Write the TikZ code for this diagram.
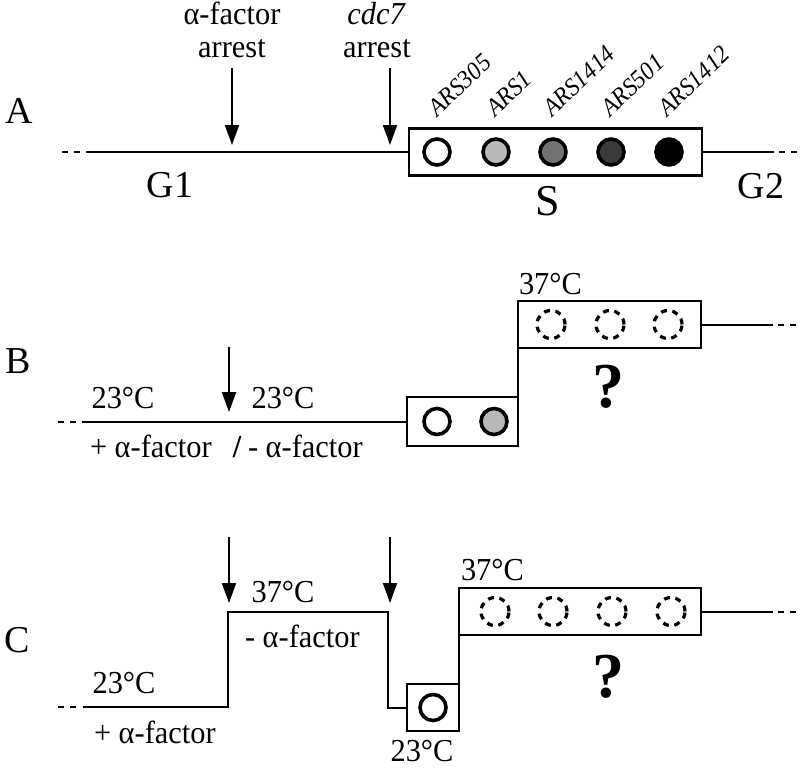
\documentclass[tikz,border=0pt]{standalone}
\usepackage{fontspec}
\setmainfont{Liberation Serif}
\newfontfamily\lblfont{Liberation Serif}[FakeStretch=0.95]
\usetikzlibrary{arrows.meta}
\definecolor{oriA}{gray}{0.72}
\definecolor{oriB}{gray}{0.45}
\definecolor{oriC}{gray}{0.23}
\definecolor{oriD}{gray}{0.0}
\begin{document}
\begin{tikzpicture}[x=1pt,y=-1pt,
  every node/.style={inner sep=0pt, outer sep=0pt},
  ln/.style={line width=2pt},
  dsh/.style={line width=2pt, dash pattern=on 6pt off 6pt},
  box/.style={draw, line width=2.3pt, rectangle, minimum height=47pt},
  ori/.style={circle, draw, line width=3.6pt, minimum size=26pt, fill=#1},
  dori/.style={circle, draw, line width=3.2pt, dash pattern=on 6pt off 5.5pt, minimum size=28pt},
  arr/.style={line width=2pt, -{Triangle[length=20pt,width=14pt]}},
  lbl/.style={font=\lblfont\fontsize{32}{34}\selectfont, anchor=base},
  phase/.style={font=\fontsize{38}{40}\selectfont, anchor=base},
  panel/.style={font=\fontsize{38}{40}\selectfont, anchor=base},
  ars/.style={font=\lblfont\itshape\fontsize{25}{27}\selectfont, anchor=base west, rotate=43},
  qm/.style={font=\bfseries\fontsize{64}{66}\selectfont, anchor=base}]
\useasboundingbox (0,0) rectangle (800,768);

% ---------------- Panel A ----------------
\node[panel] (pA) at (19,123) {A};
\node[box, minimum width=293pt] (boxA) at (555.5,152) {};
\node[ori=white] (a1) at (437,152) {};
\node[ori=oriA] (a2) at (496,152) {};
\node[ori=oriB] (a3) at (553,152) {};
\node[ori=oriC] (a4) at (611,152) {};
\node[ori=oriD] (a5) at (669,152) {};
\node[ars] (l1) at (437,117) {ARS305};
\node[ars] (l2) at (495,117) {ARS1};
\node[ars] (l3) at (552,117) {ARS1414};
\node[ars] (l4) at (610,117) {ARS501};
\node[ars] (l5) at (667,117) {ARS1412};
\coordinate (aL0) at (62,152);
\coordinate (aL1) at (80,152);
\coordinate (aL2) at (86,152);
\draw[dsh] (aL0) -- (aL1);
\draw[ln] (aL2) -- (boxA.west);
\coordinate (aR1) at (774,152);
\coordinate (aR2) at (779,152);
\coordinate (aR3) at (797,152);
\draw[ln] (boxA.east) -- (aR1);
\draw[dsh] (aR2) -- (aR3);
\node[lbl] (tA1) at (232,25) {α-factor};
\node[lbl] (tA2) at (232,57) {arrest};
\node[lbl] (tA3) at (376,25) {\itshape cdc7};
\node[lbl] (tA4) at (377,57) {arrest};
\coordinate (arA1s) at (232,68);
\coordinate (arA1e) at (232,145);
\coordinate (arA2s) at (390,68);
\coordinate (arA2e) at (390,145);
\draw[arr] (arA1s) -- (arA1e);
\draw[arr] (arA2s) -- (arA2e);
\node[phase] (g1) at (170,197) {G1};
\node[phase, font=\fontsize{44}{46}\selectfont] (sph) at (548,215) {S};
\node[phase] (g2) at (761,198) {G2};

% ---------------- Panel B ----------------
\node[panel] (pB) at (18,373) {B};
\node[box, minimum width=111pt, minimum height=49pt] (boxB1) at (462.5,421.5) {};
\node[box, minimum width=183pt] (boxB2) at (609.5,324.5) {};
\node[ori=white] (b1) at (437,421.5) {};
\node[ori=oriA] (b2) at (494,421.5) {};
\node[dori] (b3) at (551,324.5) {};
\node[dori] (b4) at (610,324.5) {};
\node[dori] (b5) at (668,324.5) {};
\coordinate (bL0) at (58,421.5);
\coordinate (bL1) at (76,421.5);
\coordinate (bL2) at (82,421.5);
\draw[dsh] (bL0) -- (bL1);
\draw[ln] (bL2) -- (boxB1.west);
\draw[ln] (boxB1.north east) -- (boxB2.south west);
\coordinate (bR1) at (773,324.5);
\coordinate (bR2) at (778,324.5);
\coordinate (bR3) at (796,324.5);
\draw[ln] (boxB2.east) -- (bR1);
\draw[dsh] (bR2) -- (bR3);
\coordinate (arBs) at (229,347);
\coordinate (arBe) at (229,412);
\draw[arr] (arBs) -- (arBe);
\node[lbl] (tB1) at (123,408) {23°C};
\node[lbl] (tB2) at (283,408) {23°C};
\node[lbl, anchor=base west] (tB3) at (90,457) {+ α-factor};
\node[lbl, font=\lblfont\bfseries\fontsize{32}{34}\selectfont] (tBs) at (237,457) {/};
\node[lbl, anchor=base west] (tB4) at (248,457) {- α-factor};
\node[lbl, anchor=base west] (tB5) at (519,294) {37°C};
\node[qm] (qB) at (608,407) {?};

% ---------------- Panel C ----------------
\node[panel] (pC) at (17,652) {C};
\node[box, minimum width=52pt] (boxC1) at (433,707.5) {};
\node[box, minimum width=242pt] (boxC2) at (580,611.5) {};
\node[ori=white] (c1) at (433,707.5) {};
\node[dori] (c2) at (495,611.5) {};
\node[dori] (c3) at (553,611.5) {};
\node[dori] (c4) at (612,611.5) {};
\node[dori] (c5) at (671,611.5) {};
\coordinate (cL0) at (58,707);
\coordinate (cL1) at (76,707);
\coordinate (cL2) at (83,707);
\coordinate (cS1) at (228,707);
\coordinate (cS2) at (228,612);
\coordinate (cS3) at (388,612);
\coordinate (cS4) at (388,707.5);
\draw[dsh] (cL0) -- (cL1);
\draw[ln] (cL2) -- (cS1) -- (cS2) -- (cS3) -- (cS4) -- (boxC1.west);
\draw[ln] (boxC1.north east) -- (boxC2.south west);
\coordinate (cR1) at (773,611.5);
\coordinate (cR2) at (778,611.5);
\coordinate (cR3) at (796,611.5);
\draw[ln] (boxC2.east) -- (cR1);
\draw[dsh] (cR2) -- (cR3);
\coordinate (arC1s) at (229,537);
\coordinate (arC1e) at (229,603);
\coordinate (arC2s) at (390,537);
\coordinate (arC2e) at (390,603);
\draw[arr] (arC1s) -- (arC1e);
\draw[arr] (arC2s) -- (arC2e);
\node[lbl] (tC1) at (283,602) {37°C};
\node[lbl, anchor=base west] (tC2) at (245,647) {- α-factor};
\node[lbl] (tC3) at (124,693) {23°C};
\node[lbl, anchor=base west] (tC4) at (94,743) {+ α-factor};
\node[lbl] (tC5) at (422,761) {23°C};
\node[lbl, anchor=base west] (tC6) at (461,580) {37°C};
\node[qm] (qC) at (608,697) {?};
\end{tikzpicture}
\end{document}
